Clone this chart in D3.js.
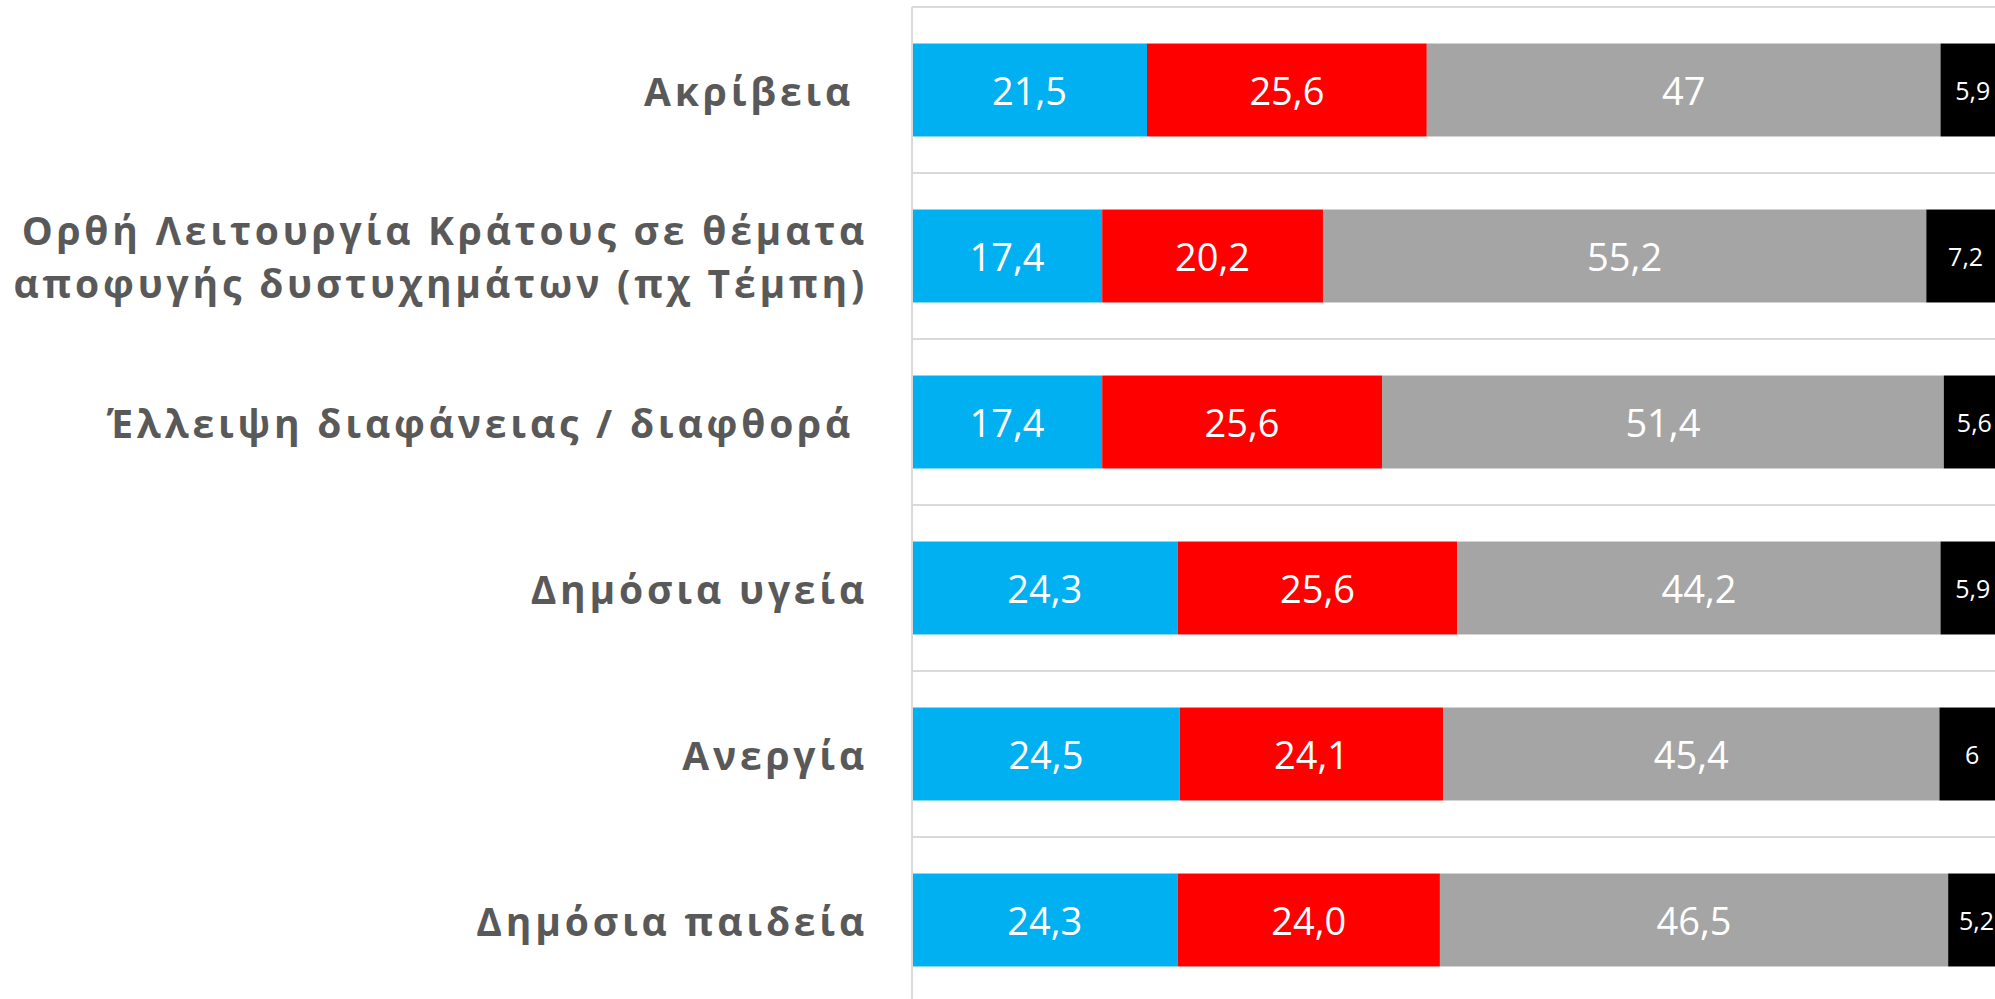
<!DOCTYPE html>
<html>
<head>
<meta charset="utf-8">
<script src="https://cdn.jsdelivr.net/npm/d3@7"></script>
<style>
  html, body { margin: 0; padding: 0; background: #fff; }
  svg { display: block; }
</style>
</head>
<body>
<svg id="chart" width="1995" height="999"></svg>
<script>
// categories, top to bottom
var categories = [
  ["Ακρίβεια "],
  ["Ορθή Λειτουργία Κράτους σε θέματα", "αποφυγής δυστυχημάτων (πχ Τέμπη)"],
  ["Έλλειψη διαφάνειας / διαφθορά "],
  ["Δημόσια υγεία"],
  ["Ανεργία"],
  ["Δημόσια παιδεία"]
];

var blueVals  = [21.5, 17.4, 17.4, 24.3, 24.5, 24.3];
var redVals   = [25.6, 20.2, 25.6, 25.6, 24.1, 24.0];
var greyVals  = [47, 55.2, 51.4, 44.2, 45.4, 46.5];
var blackVals = [5.9, 7.2, 5.6, 5.9, 6, 5.2];

var blueLabels  = ["21,5", "17,4", "17,4", "24,3", "24,5", "24,3"];
var redLabels   = ["25,6", "20,2", "25,6", "25,6", "24,1", "24,0"];
var greyLabels  = ["47", "55,2", "51,4", "44,2", "45,4", "46,5"];
var blackLabels = ["5,9", "7,2", "5,6", "5,9", "6", "5,2"];

var series = [
  {vals: blueVals,  labels: blueLabels,  color: "#00B0F0", size: 38},
  {vals: redVals,   labels: redLabels,   color: "#FF0000", size: 38},
  {vals: greyVals,  labels: greyLabels,  color: "#A5A5A5", size: 38},
  {vals: blackVals, labels: blackLabels, color: "#000000", size: 25}
];

var svg = d3.select("#chart");
var plot = {left: 912, right: 2005, top: 7, bottom: 1003};

var idx = d3.range(categories.length);
var x = d3.scaleLinear().domain([0, 100]).range([plot.left, plot.right]);
var y = d3.scaleBand().domain(idx).range([plot.top, plot.bottom])
    .paddingInner(0.44).paddingOuter(0.22);

// gridlines at band boundaries
var step = y.step();
var gridYs = d3.range(categories.length + 1).map(function(i){ return plot.top + i * step; });
svg.append("g").selectAll("line").data(gridYs).enter().append("line")
  .attr("x1", plot.left).attr("x2", plot.right)
  .attr("y1", function(d){ return d; }).attr("y2", function(d){ return d; })
  .attr("stroke", "#D9D9D9").attr("stroke-width", 2);

// stacked bars
var stackLayer = svg.append("g");
idx.forEach(function(i){
  var cum = 0;
  series.forEach(function(s){
    var v = s.vals[i];
    var x0 = x(cum), x1 = x(cum + v);
    stackLayer.append("rect")
      .attr("x", x0).attr("y", y(i))
      .attr("width", x1 - x0).attr("height", y.bandwidth())
      .attr("fill", s.color);
    stackLayer.append("text")
      .attr("x", (x0 + x1) / 2)
      .attr("y", y(i) + y.bandwidth() / 2)
      .attr("text-anchor", "middle")
      .attr("dominant-baseline", "central")
      .attr("fill", "#fff")
      .style("font-family", "'Open Sans', sans-serif")
      .style("font-size", s.size + "px")
      .text(s.labels[i]);
    cum += v;
  });
});

// y axis line
svg.append("line")
  .attr("x1", plot.left).attr("x2", plot.left).attr("y1", plot.top).attr("y2", 999)
  .attr("stroke", "#D9D9D9").attr("stroke-width", 2);

// category labels
var labelLayer = svg.append("g");
idx.forEach(function(i){
  var lines = categories[i];
  var lh = 53;
  var cy = y(i) + y.bandwidth() / 2;
  lines.forEach(function(t, j){
    labelLayer.append("text")
      .attr("x", 868)
      .attr("y", cy + (j - (lines.length - 1) / 2) * lh)
      .attr("text-anchor", "end")
      .attr("dominant-baseline", "central")
      .attr("fill", "#595959")
      .style("font-family", "'Open Sans', sans-serif")
      .style("font-weight", "bold")
      .style("font-size", "39px")
      .style("letter-spacing", "3.8px")
      .style("white-space", "pre")
      .text(t);
  });
});
</script>
</body>
</html>
